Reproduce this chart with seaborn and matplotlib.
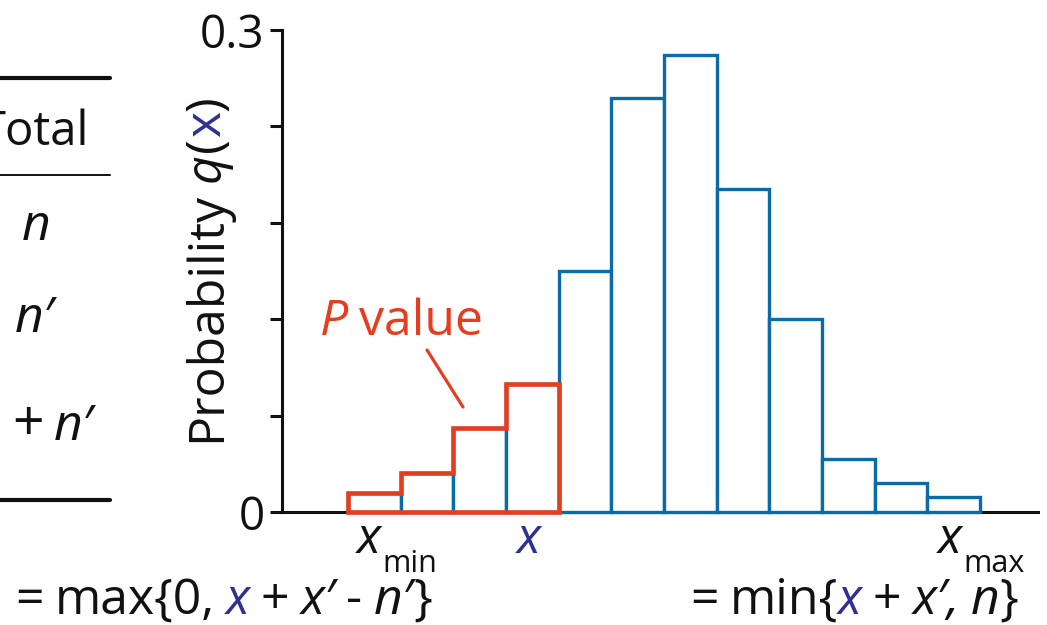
import numpy as np
import pandas as pd
import matplotlib
matplotlib.use("Agg")
import matplotlib.pyplot as plt
import seaborn as sns
from matplotlib.transforms import IdentityTransform
from matplotlib.lines import Line2D
from matplotlib.patches import Polygon

# ---------------- data ----------------
x_values = list(range(12))                     # x_min ... x_max
probabilities = [0.0120, 0.0245, 0.0520, 0.0795, 0.1503, 0.2577,
                 0.2844, 0.2010, 0.1200, 0.0330, 0.0180, 0.0095]
observed_index = 3                             # position of observed x
y_ticks = [0, 0.06, 0.12, 0.18, 0.24, 0.30]
y_tick_labels = ["0", "", "", "", "", "0.3"]

BLUE = "#0b6aa8"
RED = "#e43d20"
NAVY = "#2e3192"
BLACK = "#111111"

sns.set_theme(style="white")
plt.rcParams['font.family'] = ['Open Sans', 'DejaVu Sans']

W, H = 1047, 625
fig = plt.figure(figsize=(W / 100, H / 100), dpi=100)
ax = fig.add_axes([282 / W, (H - 512) / H, (1038 - 282) / W, 482 / H])

df = pd.DataFrame({"x": x_values, "q": probabilities})
sns.barplot(data=df, x="x", y="q", color="white", edgecolor=BLUE,
            linewidth=2.4, width=1.0, saturation=1, errorbar=None, ax=ax)
for p in ax.patches:
    p.set_clip_on(False)
    p.set_zorder(3)
    p.set_joinstyle('miter')

# P-value outline (bars up to observed x)
pv = ax.patches[:observed_index + 1]
x0 = pv[0].get_x()
pts = [(x0, 0)]
for p in pv:
    pts += [(p.get_x(), p.get_height()), (p.get_x() + p.get_width(), p.get_height())]
xl = pv[-1].get_x() + pv[-1].get_width()
pts += [(xl, 0)]
ax.add_patch(Polygon(pts, closed=True, fill=False, edgecolor=RED, lw=3.3,
                     joinstyle='miter', clip_on=False, zorder=5))

ax.set_xlim(-1.753, 12.6)
ax.set_ylim(0, 0.3)
ax.set_yticks(y_ticks)
ax.set_yticklabels(y_tick_labels)
ax.set_xticks([])
ax.set_xlabel("")
ax.set_ylabel("")
for s in ["top", "right"]:
    ax.spines[s].set_visible(False)
for s in ["left", "bottom"]:
    ax.spines[s].set_color(BLACK)
    ax.spines[s].set_linewidth(2.2)
    ax.spines[s].set_zorder(1)
ax.tick_params(axis="y", direction="out", length=8.5, width=2.2, color=BLACK,
               labelsize=33, labelcolor=BLACK, pad=4, left=True)
ax.patch.set_alpha(0)

MAIN = 36
SUB = 22
r = fig.canvas.get_renderer()


def run(x, y, pieces, size=MAIN, rot=0):
    """Place text pieces in sequence. x, y in image pixels (y from top)."""
    dy = H - y
    for piece in pieces:
        if isinstance(piece, (int, float)):
            if rot:
                dy += piece
            else:
                x += piece
            continue
        txt, color, style = piece[:3]
        sz = piece[3] if len(piece) > 3 else size
        yoff = piece[4] if len(piece) > 4 else 0
        t = fig.text(x, dy - yoff, txt, transform=IdentityTransform(), color=color,
                     fontstyle=style, fontsize=sz, rotation=rot,
                     rotation_mode='anchor', ha='left', va='baseline')
        bb = t.get_window_extent(r)
        if rot:
            dy += bb.height
        else:
            x += bb.width


# y label
run(220, 442, [("Probability", BLACK, "normal"), 10, ("q", BLACK, "italic"), 1,
               ("(", BLACK, "normal"), ("x", NAVY, "normal"), (")", BLACK, "normal")],
    rot=90)

# P value annotation
run(320, 335, [("P", RED, "italic"), 11, ("value", RED, "normal")])
fig.add_artist(Line2D([427, 463], [H - 350, H - 407], transform=IdentityTransform(),
                      color=RED, lw=2.3))

# x axis labels under bars
def bar_px(i):
    return ax.transData.transform((i, 0))[0]

run(bar_px(0) - 18, 553, [("x", BLACK, "italic"), 2, ("min", BLACK, "normal", SUB, 19)])
run(bar_px(observed_index) - 16, 553, [("x", NAVY, "italic")])
run(bar_px(len(x_values) - 1) - 16, 553, [("x", BLACK, "italic"), 2, ("max", BLACK, "normal", SUB, 19)])

# bottom formulas
run(15, 614, [("=", BLACK, "normal"), 11, ("max{0,", BLACK, "normal"), 11,
              ("x", NAVY, "italic"), 11, ("+", BLACK, "normal"), 11,
              ("x′", BLACK, "italic"), 11, ("-", BLACK, "normal"), 11,
              ("n′", BLACK, "italic"), ("}", BLACK, "normal")])
run(690, 614, [("=", BLACK, "normal"), 11, ("min{", BLACK, "normal"),
               ("x", NAVY, "italic"), 11, ("+", BLACK, "normal"), 11,
               ("x′,", BLACK, "italic"), 11, ("n", BLACK, "italic"), ("}", BLACK, "normal")])

# table fragment on the left
fig.add_artist(Line2D([0, 110], [H - 78, H - 78], transform=IdentityTransform(), color=BLACK, lw=3))
fig.add_artist(Line2D([0, 110], [H - 175, H - 175], transform=IdentityTransform(), color=BLACK, lw=1.4))
fig.add_artist(Line2D([0, 110], [H - 500, H - 500], transform=IdentityTransform(), color=BLACK, lw=3))
fig.text(89, H - 145, "Total", transform=IdentityTransform(), color=BLACK, fontsize=34,
         ha='right', va='baseline')
run(22, 240, [("n", BLACK, "italic")])
run(15, 332, [("n′", BLACK, "italic")])
run(12, 440, [("+", BLACK, "normal", 40), 10, ("n′", BLACK, "italic")])

fig.savefig("out.png", dpi=100)
